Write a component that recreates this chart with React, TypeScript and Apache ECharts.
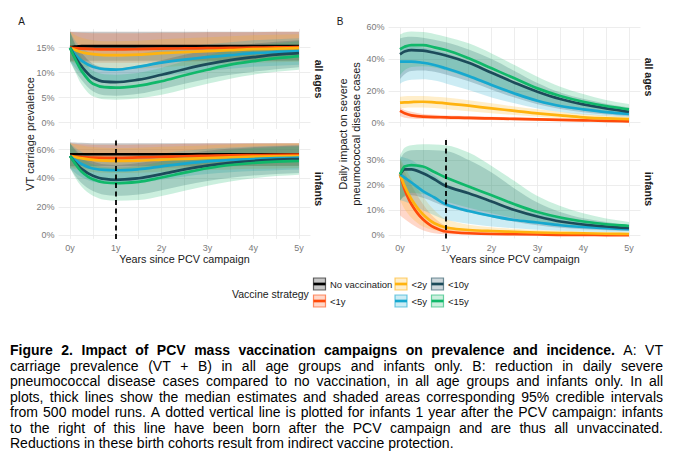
import { useEffect, useRef } from 'react';
import * as echarts from 'echarts';

// ---------- data ----------
const YEARS = [0, 0.1, 0.25, 0.5, 0.75, 1, 1.5, 2, 2.5, 3, 3.5, 4, 4.5, 5];
const STRATEGIES = ['No vaccination', '<1y', '<2y', '<5y', '<10y', '<15y'];
const COLORS = ['#000000', '#FF4A0A', '#FFB30F', '#16A8CF', '#1C4B5A', '#10B86A'];
const X_TICKS = [0, 1, 2, 3, 4, 5];
const DASH_YEAR = 1;

// A: VT carriage prevalence (%), all ages
const A_ALL_NONE = [15.1, 15.2, 15.3, 15.3, 15.3, 15.3, 15.3, 15.3, 15.3, 15.3, 15.3, 15.3, 15.3, 15.3];
const A_ALL_NONE_LO = [12.4, 12.4, 12.4, 12.4, 12.4, 12.4, 12.4, 12.4, 12.4, 12.4, 12.4, 12.4, 12.4, 12.4];
const A_ALL_NONE_HI = [18.2, 18.2, 18.2, 18.2, 18.2, 18.2, 18.2, 18.2, 18.2, 18.2, 18.2, 18.2, 18.2, 18.2];
const A_ALL_LT1 = [15.0, 14.9, 14.8, 14.7, 14.65, 14.65, 14.7, 14.8, 14.85, 14.9, 14.95, 15.0, 15.05, 15.1];
const A_ALL_LT1_LO = [12.3, 12.2, 12.1, 12.0, 12.0, 12.0, 12.0, 12.1, 12.2, 12.3, 12.3, 12.4, 12.4, 12.5];
const A_ALL_LT1_HI = [18.2, 18.1, 18.0, 17.9, 17.9, 17.9, 17.9, 18.0, 18.0, 18.1, 18.1, 18.1, 18.2, 18.2];
const A_ALL_LT2 = [15.0, 14.6, 14.1, 13.7, 13.5, 13.5, 13.6, 13.9, 14.1, 14.3, 14.5, 14.7, 14.8, 14.9];
const A_ALL_LT2_LO = [12.3, 11.9, 11.4, 10.9, 10.7, 10.7, 10.8, 11.1, 11.4, 11.6, 11.8, 12.0, 12.1, 12.2];
const A_ALL_LT2_HI = [18.2, 17.6, 17.0, 16.5, 16.3, 16.3, 16.4, 16.7, 16.9, 17.1, 17.3, 17.5, 17.6, 17.7];
const A_ALL_LT5 = [15.0, 13.8, 12.4, 11.2, 10.7, 10.6, 11.2, 12.0, 12.6, 13.1, 13.5, 13.9, 14.1, 14.3];
const A_ALL_LT5_LO = [12.3, 11.2, 9.8, 8.6, 8.1, 8.0, 8.5, 9.3, 9.9, 10.4, 10.8, 11.2, 11.4, 11.6];
const A_ALL_LT5_HI = [18.2, 16.6, 15.0, 13.8, 13.3, 13.2, 13.8, 14.6, 15.2, 15.7, 16.1, 16.5, 16.7, 16.9];
const A_ALL_LT10 = [15.0, 13.3, 11.3, 9.0, 8.2, 8.1, 8.6, 9.6, 10.7, 11.7, 12.5, 13.1, 13.6, 13.9];
const A_ALL_LT10_LO = [12.3, 10.6, 8.6, 6.3, 5.5, 5.4, 5.8, 6.7, 7.8, 8.8, 9.6, 10.2, 10.7, 11.1];
const A_ALL_LT10_HI = [18.2, 16.0, 14.0, 11.8, 11.0, 10.9, 11.4, 12.5, 13.6, 14.5, 15.2, 15.8, 16.2, 16.5];
const A_ALL_LT15 = [15.0, 13.0, 10.4, 7.8, 7.1, 7.0, 7.4, 8.3, 9.5, 10.6, 11.6, 12.3, 12.9, 13.3];
const A_ALL_LT15_LO = [12.3, 10.4, 7.7, 5.3, 4.7, 4.6, 4.9, 5.6, 6.7, 7.8, 8.8, 9.6, 10.2, 10.6];
const A_ALL_LT15_HI = [18.2, 15.7, 13.1, 10.4, 9.7, 9.6, 10.0, 11.0, 12.3, 13.5, 14.5, 15.3, 15.9, 16.3];

// A: VT carriage prevalence (%), infants
const A_INF_NONE = [56.8, 56.8, 56.8, 56.8, 56.8, 56.8, 56.8, 56.8, 56.8, 56.8, 56.8, 56.8, 56.8, 56.8];
const A_INF_NONE_LO = [48.5, 48.5, 48.5, 48.5, 48.5, 48.5, 48.5, 48.5, 48.5, 48.5, 48.5, 48.5, 48.5, 48.5];
const A_INF_NONE_HI = [65.3, 65.0, 64.8, 64.6, 64.6, 64.6, 64.6, 64.6, 64.6, 64.6, 64.6, 64.6, 64.6, 64.6];
const A_INF_LT1 = [55.6, 55.2, 54.8, 54.4, 54.3, 54.3, 54.6, 55.0, 55.4, 55.7, 56.0, 56.2, 56.4, 56.5];
const A_INF_LT1_LO = [48.0, 47.5, 47.0, 46.5, 46.3, 46.3, 46.6, 47.0, 47.5, 47.9, 48.2, 48.5, 48.7, 48.9];
const A_INF_LT1_HI = [64.5, 64.2, 63.8, 63.5, 63.4, 63.4, 63.6, 63.9, 64.1, 64.3, 64.4, 64.5, 64.6, 64.6];
const A_INF_LT2 = [55.6, 54.9, 54.0, 52.9, 52.4, 52.2, 52.4, 53.0, 53.6, 54.2, 54.7, 55.1, 55.4, 55.6];
const A_INF_LT2_LO = [47.1, 46.4, 45.5, 44.4, 43.9, 43.7, 43.9, 44.5, 45.1, 45.7, 46.2, 46.6, 46.9, 47.1];
const A_INF_LT2_HI = [64.6, 63.9, 63.0, 61.9, 61.4, 61.2, 61.4, 62.0, 62.6, 63.2, 63.7, 64.1, 64.4, 64.6];
const A_INF_LT5 = [55.6, 53.0, 50.0, 46.8, 45.8, 45.6, 46.3, 48.3, 50.3, 51.8, 52.8, 53.5, 54.1, 54.5];
const A_INF_LT5_LO = [47.1, 44.2, 40.8, 37.5, 36.3, 36.1, 36.9, 39.0, 41.3, 43.0, 44.2, 45.0, 45.6, 46.1];
const A_INF_LT5_HI = [64.6, 61.8, 58.6, 55.4, 54.4, 54.2, 55.0, 57.2, 59.2, 60.7, 61.6, 62.3, 62.8, 63.2];
const A_INF_LT10 = [55.6, 51.5, 46.6, 41.8, 39.5, 38.9, 40.0, 42.9, 46.2, 48.9, 50.8, 52.1, 53.0, 53.5];
const A_INF_LT10_LO = [47.1, 42.2, 36.6, 31.0, 28.4, 27.7, 28.6, 31.6, 35.1, 38.1, 40.3, 41.9, 43.0, 43.6];
const A_INF_LT10_HI = [64.6, 60.6, 56.0, 51.8, 49.8, 49.3, 50.6, 53.6, 56.8, 59.2, 60.8, 61.8, 62.5, 62.9];
const A_INF_LT15 = [55.6, 50.8, 44.8, 39.3, 37.0, 36.5, 37.5, 40.5, 43.9, 47.0, 49.3, 50.7, 51.6, 52.1];
const A_INF_LT15_LO = [47.1, 41.2, 34.3, 27.8, 25.0, 24.2, 24.8, 27.6, 31.2, 34.8, 37.8, 40.0, 41.5, 42.5];
const A_INF_LT15_HI = [64.6, 59.8, 54.6, 49.8, 47.8, 47.4, 48.6, 51.8, 55.0, 57.8, 59.8, 61.0, 61.8, 62.3];

// B: daily impact on severe pneumococcal disease cases (%), all ages
const B_ALL_LT1 = [7.5, 5.9, 4.6, 3.8, 3.5, 3.4, 3.0, 2.7, 2.4, 2.1, 1.8, 1.5, 1.2, 0.8];
const B_ALL_LT1_LO = [4.0, 3.2, 2.7, 2.3, 2.2, 2.1, 1.9, 1.7, 1.5, 1.3, 1.1, 0.9, 0.6, 0.4];
const B_ALL_LT1_HI = [9.6, 8.0, 6.9, 5.5, 5.0, 4.6, 4.2, 3.8, 3.4, 2.9, 2.5, 2.2, 1.9, 1.7];
const B_ALL_LT2 = [12.6, 12.8, 13.0, 13.2, 12.8, 12.2, 10.7, 9.0, 7.5, 5.9, 4.6, 3.4, 2.7, 2.3];
const B_ALL_LT2_LO = [9.0, 9.3, 9.5, 9.6, 9.2, 8.4, 7.2, 5.9, 4.8, 3.8, 2.9, 2.1, 1.6, 1.3];
const B_ALL_LT2_HI = [16.4, 16.6, 16.8, 16.8, 16.4, 15.9, 14.2, 12.2, 10.2, 8.4, 6.8, 5.5, 4.6, 3.8];
const B_ALL_LT5 = [38.4, 38.4, 38.4, 37.7, 36.3, 34.2, 29.4, 23.7, 18.4, 13.8, 10.5, 8.4, 6.7, 5.5];
const B_ALL_LT5_LO = [24.5, 26.0, 27.0, 27.3, 26.5, 24.7, 20.5, 15.9, 12.2, 9.0, 6.8, 5.2, 4.2, 3.4];
const B_ALL_LT5_HI = [47.5, 48.0, 48.0, 47.2, 45.8, 43.8, 38.5, 32.0, 25.5, 19.5, 15.0, 12.0, 9.6, 7.8];
const B_ALL_LT10 = [43.0, 44.8, 45.7, 45.3, 44.0, 42.3, 37.7, 31.4, 25.2, 19.5, 14.9, 11.5, 9.0, 6.9];
const B_ALL_LT10_LO = [27.5, 30.5, 32.5, 32.8, 32.0, 30.3, 26.0, 20.8, 15.8, 11.6, 8.6, 6.6, 5.2, 4.0];
const B_ALL_LT10_HI = [53.0, 53.8, 54.0, 53.5, 52.2, 50.6, 46.0, 40.0, 32.5, 25.0, 19.0, 15.0, 12.0, 9.6];
const B_ALL_LT15 = [46.1, 47.8, 48.8, 48.8, 47.4, 45.7, 40.5, 34.2, 27.9, 21.6, 16.8, 13.2, 10.5, 8.4];
const B_ALL_LT15_LO = [30.0, 33.0, 35.0, 35.5, 34.8, 33.0, 28.2, 22.8, 17.5, 13.0, 9.8, 7.8, 6.3, 5.0];
const B_ALL_LT15_HI = [55.5, 56.8, 57.3, 57.0, 55.8, 54.1, 49.9, 43.6, 36.3, 28.9, 22.6, 18.0, 14.3, 11.7];

// B: daily impact on severe pneumococcal disease cases (%), infants
const B_INF_LT1 = [24.4, 18.4, 12.4, 6.4, 3.1, 1.5, 0.8, 0.5, 0.4, 0.3, 0.2, 0.2, 0.1, 0.1];
const B_INF_LT1_LO = [8.0, 6.5, 4.5, 2.0, 0.8, 0.4, 0.2, 0.1, 0.1, 0.1, 0.0, 0.0, 0.0, 0.0];
const B_INF_LT1_HI = [30.0, 25.5, 20.0, 12.5, 7.0, 3.8, 2.2, 1.5, 1.2, 0.9, 0.7, 0.6, 0.5, 0.4];
const B_INF_LT2 = [24.4, 19.7, 14.4, 8.4, 4.8, 3.1, 2.1, 1.7, 1.4, 1.1, 0.9, 0.8, 0.6, 0.5];
const B_INF_LT2_LO = [14.0, 10.5, 7.0, 3.5, 2.0, 1.3, 0.9, 0.7, 0.6, 0.5, 0.4, 0.3, 0.3, 0.2];
const B_INF_LT2_HI = [31.0, 27.5, 22.5, 15.5, 10.0, 6.5, 4.2, 3.2, 2.6, 2.1, 1.8, 1.5, 1.3, 1.1];
const B_INF_LT5 = [24.4, 23.1, 21.1, 17.7, 15.1, 12.4, 9.7, 7.7, 6.1, 5.1, 4.0, 3.3, 2.8, 2.4];
const B_INF_LT5_LO = [14.0, 13.5, 12.5, 10.0, 8.0, 6.2, 4.6, 3.5, 2.8, 2.2, 1.8, 1.5, 1.3, 1.1];
const B_INF_LT5_HI = [31.5, 31.0, 30.0, 27.0, 24.0, 20.5, 16.5, 13.0, 10.4, 8.6, 7.0, 5.8, 4.9, 4.2];
const B_INF_LT10 = [24.4, 26.4, 26.4, 24.8, 22.4, 19.7, 16.8, 13.5, 10.1, 7.5, 5.5, 4.3, 3.5, 2.9];
const B_INF_LT10_LO = [14.0, 15.5, 16.0, 15.0, 13.2, 11.5, 9.2, 7.2, 5.4, 4.0, 3.0, 2.4, 2.0, 1.7];
const B_INF_LT10_HI = [30.4, 33.0, 34.0, 34.1, 34.0, 33.7, 30.1, 25.1, 18.7, 13.1, 9.3, 6.8, 5.3, 4.0];
const B_INF_LT15 = [24.4, 27.5, 28.1, 27.5, 25.3, 23.1, 19.5, 16.0, 12.4, 9.3, 7.1, 5.5, 4.4, 3.7];
const B_INF_LT15_LO = [14.0, 16.0, 17.0, 16.5, 15.0, 13.5, 11.0, 8.8, 6.8, 5.2, 4.0, 3.2, 2.6, 2.2];
const B_INF_LT15_HI = [32.0, 35.0, 36.0, 36.4, 36.3, 36.0, 33.1, 27.7, 21.7, 15.7, 11.7, 8.8, 6.7, 5.3];

// y tick labels per panel
const Y_TICKS_A_ALL = [0, 5, 10, 15];
const Y_TICKS_A_INF = [0, 20, 40, 60];
const Y_TICKS_B_ALL = [0, 20, 40, 60];
const Y_TICKS_B_INF = [0, 10, 20, 30];

const CAPTION_LINES = [
  'Figure 2. Impact of PCV mass vaccination campaigns on prevalence and incidence. A: VT',
  'carriage prevalence (VT + B) in all age groups and infants only. B: reduction in daily severe',
  'pneumococcal disease cases compared to no vaccination, in all age groups and infants only. In all',
  'plots, thick lines show the median estimates and shaded areas corresponding 95% credible intervals',
  'from 500 model runs. A dotted vertical line is plotted for infants 1 year after the PCV campaign: infants',
  'to the right of this line have been born after the PCV campaign and are thus all unvaccinated.',
  'Reductions in these birth cohorts result from indirect vaccine protection.',
];
const CAPTION_BOLD_WORDS = 12;

// ---------- panels ----------
const PANELS = [
  {
    med: [A_ALL_NONE, A_ALL_LT1, A_ALL_LT2, A_ALL_LT5, A_ALL_LT10, A_ALL_LT15],
    lo: [A_ALL_NONE_LO, A_ALL_LT1_LO, A_ALL_LT2_LO, A_ALL_LT5_LO, A_ALL_LT10_LO, A_ALL_LT15_LO],
    hi: [A_ALL_NONE_HI, A_ALL_LT1_HI, A_ALL_LT2_HI, A_ALL_LT5_HI, A_ALL_LT10_HI, A_ALL_LT15_HI],
    ticks: Y_TICKS_A_ALL,
  },
  {
    med: [A_INF_NONE, A_INF_LT1, A_INF_LT2, A_INF_LT5, A_INF_LT10, A_INF_LT15],
    lo: [A_INF_NONE_LO, A_INF_LT1_LO, A_INF_LT2_LO, A_INF_LT5_LO, A_INF_LT10_LO, A_INF_LT15_LO],
    hi: [A_INF_NONE_HI, A_INF_LT1_HI, A_INF_LT2_HI, A_INF_LT5_HI, A_INF_LT10_HI, A_INF_LT15_HI],
    ticks: Y_TICKS_A_INF,
  },
  {
    med: [null, B_ALL_LT1, B_ALL_LT2, B_ALL_LT5, B_ALL_LT10, B_ALL_LT15],
    lo: [null, B_ALL_LT1_LO, B_ALL_LT2_LO, B_ALL_LT5_LO, B_ALL_LT10_LO, B_ALL_LT15_LO],
    hi: [null, B_ALL_LT1_HI, B_ALL_LT2_HI, B_ALL_LT5_HI, B_ALL_LT10_HI, B_ALL_LT15_HI],
    ticks: Y_TICKS_B_ALL,
  },
  {
    med: [null, B_INF_LT1, B_INF_LT2, B_INF_LT5, B_INF_LT10, B_INF_LT15],
    lo: [null, B_INF_LT1_LO, B_INF_LT2_LO, B_INF_LT5_LO, B_INF_LT10_LO, B_INF_LT15_LO],
    hi: [null, B_INF_LT1_HI, B_INF_LT2_HI, B_INF_LT5_HI, B_INF_LT10_HI, B_INF_LT15_HI],
    ticks: Y_TICKS_B_INF,
  },
];

// ---------- layout ----------
const CLEAR = 'rgba(0,0,0,0)';
const GRID_COLOR = '#EBEBEB';
const AXIS_TEXT = '#7a7a7a';
const FONT = '"Liberation Sans", Arial, Helvetica, sans-serif';
const BAND_ALPHA = 0.22;
const LINE_WIDTH = 2.7;

const GRIDS = [
  { left: 58.55, top: 28.95, width: 251.9, height: 100 },
  { left: 58.55, top: 139.0, width: 251.9, height: 99.9 },
  { left: 388.55, top: 27.3, width: 251.9, height: 99.4 },
  { left: 388.55, top: 138.4, width: 251.9, height: 100 },
];
const Y_SCALES = [
  { min: -1.25, max: 18.75, interval: 1.25, pattern: [CLEAR, GRID_COLOR, CLEAR, CLEAR] },
  { min: -2.5, max: 67.5, interval: 2.5, pattern: [CLEAR, GRID_COLOR, CLEAR, CLEAR, CLEAR, CLEAR, CLEAR, CLEAR] },
  { min: -2.5, max: 60, interval: 2.5, pattern: [CLEAR, GRID_COLOR, CLEAR, CLEAR, CLEAR, CLEAR, CLEAR, CLEAR] },
  { min: -1.25, max: 38.75, interval: 1.25, pattern: [CLEAR, GRID_COLOR, CLEAR, CLEAR, CLEAR, CLEAR, CLEAR, CLEAR] },
];

const CAP_FAMILY = '"Liberation Sans Narrow", "Arial Narrow", "Liberation Sans", Arial, sans-serif';
const CAP_SIZE = 14;
const CAP_LEFT = 10;
const CAP_RIGHT = 663;
const CAP_TOP = 350;
const CAP_LEAD = 15.5;

// Monotone cubic (Fritsch–Carlson) bezier segments through pixel points.
function monotoneSegments(pts: number[][]): number[][] {
  const n = pts.length;
  const dx: number[] = [];
  const m: number[] = [];
  for (let i = 0; i < n - 1; i++) {
    dx[i] = pts[i + 1][0] - pts[i][0];
    m[i] = (pts[i + 1][1] - pts[i][1]) / dx[i];
  }
  const t: number[] = [];
  t[0] = m[0];
  t[n - 1] = m[n - 2];
  for (let i = 1; i < n - 1; i++) {
    if (m[i - 1] * m[i] <= 0) t[i] = 0;
    else {
      const w1 = 2 * dx[i] + dx[i - 1];
      const w2 = dx[i] + 2 * dx[i - 1];
      t[i] = (w1 + w2) / (w1 / m[i - 1] + w2 / m[i]);
    }
  }
  const segs: number[][] = [];
  for (let i = 0; i < n - 1; i++) {
    const h = dx[i] / 3;
    segs.push([
      pts[i][0], pts[i][1],
      pts[i][0] + h, pts[i][1] + t[i] * h,
      pts[i + 1][0] - h, pts[i + 1][1] - t[i + 1] * h,
      pts[i + 1][0], pts[i + 1][1],
    ]);
  }
  return segs;
}

function curvePath(pts: number[][]): string {
  let d = `M${pts[0][0]},${pts[0][1]}`;
  monotoneSegments(pts).forEach((s) => { d += `C${s[2]},${s[3]} ${s[4]},${s[5]} ${s[6]},${s[7]}`; });
  return d;
}

function bandPath(top: number[][], bottom: number[][]): string {
  const low = monotoneSegments(bottom);
  let d = curvePath(top);
  const last = bottom[bottom.length - 1];
  d += `L${last[0]},${last[1]}`;
  for (let i = low.length - 1; i >= 0; i--) {
    const s = low[i];
    d += `C${s[4]},${s[5]} ${s[2]},${s[3]} ${s[0]},${s[1]}`;
  }
  return d + 'Z';
}

function captionElements(): any[] {
  const ctx = document.createElement('canvas').getContext('2d') as CanvasRenderingContext2D;
  const fontOf = (bold: boolean) => `${bold ? 'bold ' : ''}${CAP_SIZE}px ${CAP_FAMILY}`;
  const lines = CAPTION_LINES.map((line, li) =>
    line.split(' ').map((w, wi) => {
      const bold = li === 0 && wi < CAPTION_BOLD_WORDS;
      ctx.font = fontOf(bold);
      return { w, bold, width: ctx.measureText(w).width };
    })
  );
  ctx.font = fontOf(false);
  const space = ctx.measureText(' ').width;
  const full = CAP_RIGHT - CAP_LEFT;
  let scale = 1;
  lines.forEach((words, li) => {
    if (li === lines.length - 1) return;
    const sum = words.reduce((a, o) => a + o.width, 0);
    scale = Math.min(scale, (full - (words.length - 1) * space * 0.85) / sum);
  });
  const els: any[] = [];
  lines.forEach((words, li) => {
    const y = CAP_TOP + li * CAP_LEAD;
    const sum = words.reduce((a, o) => a + o.width * scale, 0);
    const last = li === lines.length - 1;
    const gap = last ? space * scale : (full - sum) / (words.length - 1);
    let x = CAP_LEFT;
    words.forEach((o) => {
      els.push({
        type: 'text', x, y, scaleX: scale, silent: true,
        style: { text: o.w, font: fontOf(o.bold), fill: '#000', textVerticalAlign: 'middle' },
      });
      x += o.width * scale + gap;
    });
  });
  return els;
}

function textEl(text: string, x: number, y: number, size: number, opts: any = {}) {
  return {
    type: 'text', x, y, rotation: opts.rotation || 0, silent: true,
    style: {
      text, fill: opts.fill || '#1a1a1a',
      font: `${opts.bold ? 'bold ' : ''}${size}px ${FONT}`,
      textAlign: opts.align || 'center', textVerticalAlign: 'middle', lineHeight: opts.lineHeight,
    },
  };
}

function legendElements(): any[] {
  const cols = [313, 394.5, 431];
  const rows = [277.5, 294.5];
  const els: any[] = [textEl('Vaccine strategy', 232, 293.5, 10.5, { align: 'left' })];
  STRATEGIES.forEach((name, k) => {
    const x = cols[Math.floor(k / 2)];
    const y = rows[k % 2];
    const c = COLORS[k];
    els.push({
      type: 'rect', silent: true, shape: { x: x + 0.5, y: y + 0.5, width: 12, height: 12 },
      style: { fill: echarts.color.modifyAlpha(c, BAND_ALPHA), stroke: echarts.color.modifyAlpha(c, 0.6), lineWidth: 1.2 },
    });
    els.push({
      type: 'line', silent: true, shape: { x1: x + 0.5, y1: y + 6.5, x2: x + 12.5, y2: y + 6.5 },
      style: { stroke: c, lineWidth: LINE_WIDTH },
    });
    els.push(textEl(name, x + 17, y + 6.5, 9.5, { align: 'left' }));
  });
  return els;
}

function buildOption() {
  const xAxis = GRIDS.map((_, p) => ({
    type: 'value', gridIndex: p, min: -0.25, max: 5.25, interval: 0.25,
    axisLine: { show: false }, axisTick: { show: false },
    axisLabel: {
      show: p === 1 || p === 3, color: AXIS_TEXT, fontSize: 9, fontFamily: FONT, margin: 5,
      formatter: (v: number) => {
        const r = Math.round(v * 100) / 100;
        return X_TICKS.includes(r) ? `${r}y` : '';
      },
    },
    splitLine: { show: true, showMinLine: true, showMaxLine: true, lineStyle: { color: [CLEAR, GRID_COLOR], width: 0.9 } },
  }));
  const yAxis = GRIDS.map((_, p) => ({
    type: 'value', gridIndex: p, min: Y_SCALES[p].min, max: Y_SCALES[p].max, interval: Y_SCALES[p].interval,
    axisLine: { show: false }, axisTick: { show: false },
    axisLabel: {
      color: AXIS_TEXT, fontSize: 9, fontFamily: FONT, margin: 4,
      formatter: (v: number) => {
        const r = Math.round(v * 100) / 100;
        return PANELS[p].ticks.includes(r) ? `${r}%` : '';
      },
    },
    splitLine: { show: true, showMinLine: true, showMaxLine: true, lineStyle: { color: Y_SCALES[p].pattern, width: 0.9 } },
  }));

  const series: any[] = [];
  // credible-interval ribbons
  PANELS.forEach((panel, p) => {
    panel.med.forEach((med, k) => {
      if (!med) return;
      const lo = panel.lo[k] as number[];
      const hi = panel.hi[k] as number[];
      series.push({
        type: 'custom', name: `${STRATEGIES[k]} 95% CrI`, xAxisIndex: p, yAxisIndex: p, z: 1, silent: true, clip: true,
        data: YEARS.map((x, i) => [x, lo[i], hi[i]]),
        encode: { x: 0, y: [1, 2] },
        renderItem: (params: any, api: any) => {
          if (params.dataIndex !== 0) return null;
          const top = YEARS.map((x, i) => api.coord([x, hi[i]]));
          const bottom = YEARS.map((x, i) => api.coord([x, lo[i]]));
          return {
            type: 'path',
            shape: { pathData: bandPath(top, bottom) },
            style: { fill: echarts.color.modifyAlpha(COLORS[k], BAND_ALPHA) },
          };
        },
      });
    });
  });
  // median lines
  PANELS.forEach((panel, p) => {
    panel.med.forEach((med, k) => {
      if (!med) return;
      const s: any = {
        type: 'custom', name: STRATEGIES[k], xAxisIndex: p, yAxisIndex: p, z: 3 + k * 0.01, silent: true, clip: true,
        data: YEARS.map((x, i) => [x, med[i]]),
        encode: { x: 0, y: 1 },
        renderItem: (params: any, api: any) => {
          if (params.dataIndex !== 0) return null;
          const pts = YEARS.map((x, i) => api.coord([x, med[i]]));
          return {
            type: 'path',
            shape: { pathData: curvePath(pts) },
            style: { fill: 'none', stroke: COLORS[k], lineWidth: LINE_WIDTH, lineJoin: 'round' },
          };
        },
      };
      if ((p === 1 || p === 3) && k === 5) {
        s.markLine = {
          silent: true, symbol: ['none', 'none'], label: { show: false }, animation: false, z: 10,
          lineStyle: { color: '#000', type: [5, 3.5], width: 1.8 },
          data: [{ xAxis: DASH_YEAR }],
        };
      }
      series.push(s);
    });
  });

  const graphic: any[] = [
    textEl('A', 21.5, 21.5, 10),
    textEl('B', 340, 21.5, 10),
    textEl('all ages', 318.5, 79, 10.5, { bold: true, rotation: -Math.PI / 2 }),
    textEl('infants', 318.5, 189, 10.5, { bold: true, rotation: -Math.PI / 2 }),
    textEl('all ages', 648.5, 77, 10.5, { bold: true, rotation: -Math.PI / 2 }),
    textEl('infants', 648.5, 189, 10.5, { bold: true, rotation: -Math.PI / 2 }),
    textEl('VT carriage prevalence', 29.5, 134, 11, { rotation: Math.PI / 2 }),
    textEl('Daily impact on severe\npneumococcal disease cases', 349.5, 134, 11, { rotation: Math.PI / 2, lineHeight: 13 }),
    textEl('Years since PCV campaign', 184.5, 258.5, 10.8),
    textEl('Years since PCV campaign', 514.5, 258.5, 10.8),
    ...legendElements(),
    ...captionElements(),
  ];

  return {
    animation: false,
    backgroundColor: '#ffffff',
    grid: GRIDS.map((g) => ({ ...g, containLabel: false })),
    xAxis, yAxis, series, graphic,
  };
}

export default function App() {
  const ref = useRef<HTMLDivElement>(null);
  useEffect(() => {
    if (!ref.current) return;
    const chart = echarts.init(ref.current, undefined, { renderer: 'svg' });
    chart.setOption(buildOption() as any);
    return () => chart.dispose();
  }, []);
  return <div ref={ref} style={{ position: 'fixed', left: 0, top: 0, width: 687, height: 473, background: '#fff' }} />;
}
